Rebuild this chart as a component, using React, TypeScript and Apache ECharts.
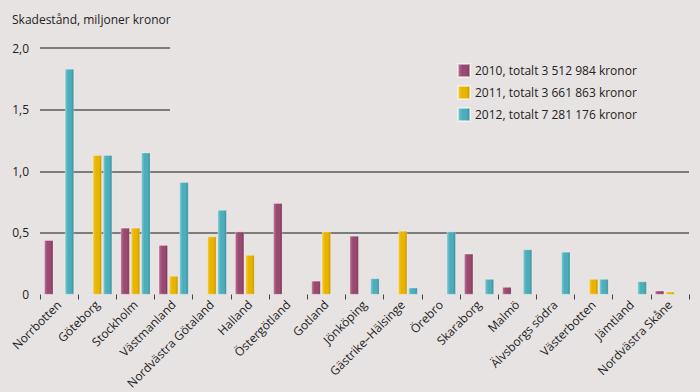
import React, { useEffect, useRef } from "react";
import * as echarts from "echarts";

const categories = [
  "Norrbotten", "Göteborg", "Stockholm", "Västmanland", "Nordvästra Götaland",
  "Halland", "Östergötland", "Gotland", "Jönköping", "Gästrike–Hälsinge",
  "Örebro", "Skaraborg", "Malmö", "Älvsborgs södra", "Västerbotten",
  "Jämtland", "Nordvästra Skåne",
];
const values2010 = [0.44, null, 0.54, 0.40, null, 0.51, 0.74, 0.11, 0.475, null, null, 0.33, 0.06, null, null, null, 0.03];
const values2011 = [null, 1.13, 0.54, 0.15, 0.47, 0.32, null, 0.51, null, 0.515, null, null, null, null, 0.125, null, 0.022];
const values2012 = [1.83, 1.13, 1.15, 0.91, 0.685, null, null, null, 0.13, 0.055, 0.51, 0.125, 0.365, 0.345, 0.125, 0.105, null];
const seriesNames = [
  "2010, totalt 3 512 984 kronor",
  "2011, totalt 3 661 863 kronor",
  "2012, totalt 7 281 176 kronor",
];
const yTicks = [0, 0.5, 1, 1.5, 2];

const BG = "#e8e3e3";
const FONT = "'Open Sans', 'Noto Sans', sans-serif";

function grad(light: string, main: string, dark: string) {
  return new echarts.graphic.LinearGradient(0, 0, 1, 0, [
    { offset: 0, color: light },
    { offset: 0.35, color: main },
    { offset: 0.7, color: main },
    { offset: 1, color: dark },
  ]);
}

const colors = [
  grad("#b7729a", "#9a4a70", "#7d3558"),
  grad("#f3cc3c", "#e8b400", "#c79600"),
  grad("#7dc7d1", "#4cadbb", "#3a8e9b"),
];

export default function App() {
  const ref = useRef<HTMLDivElement>(null);
  useEffect(() => {
    document.body.style.margin = "0";
    document.body.style.background = BG;
    const chart = echarts.init(ref.current!, null, { renderer: "svg" });
    const data = [values2010, values2011, values2012];
    chart.setOption({
      animation: false,
      backgroundColor: BG,
      textStyle: { fontFamily: FONT },
      title: {
        text: "Skadestånd, miljoner kronor",
        left: 7,
        top: 8,
        textStyle: { fontFamily: FONT, fontSize: 12, fontWeight: "normal", color: "#222" },
      },
      legend: {
        orient: "vertical",
        left: 452,
        top: 58,
        itemWidth: 12,
        itemHeight: 13,
        itemGap: 7,
        icon: "rect",
        textStyle: { fontFamily: FONT, fontSize: 12, color: "#222" },
        data: seriesNames,
      },
      graphic: [
        {
          type: "rect",
          z: 1,
          shape: { x: 170, y: 38, width: 530, height: 80 },
          style: { fill: BG },
        },
      ],
      grid: { left: 40, right: 11, top: 48, bottom: 97.5 },
      xAxis: {
        type: "category",
        data: categories,
        offset: 2,
        axisLine: { show: false },
        axisTick: { show: true, length: 5, lineStyle: { color: "#444", width: 1 } },
        axisLabel: {
          rotate: 45,
          interval: 0,
          margin: 6,
          fontFamily: FONT,
          fontSize: 12,
          color: "#222",
        },
      },
      yAxis: {
        type: "value",
        min: 0,
        max: 2,
        interval: 0.5,
        axisLine: { show: false },
        axisTick: { show: false },
        axisLabel: {
          margin: 11,
          fontFamily: FONT,
          fontSize: 12,
          color: "#222",
          formatter: (v: number) => (v === 0 ? "0" : v.toFixed(1).replace(".", ",")),
        },
        splitLine: {
          show: true,
          lineStyle: { color: "#5a5858", width: 1.5 },
          showMinLine: false,
        },
      },
      series: seriesNames.map((name, i) => ({
        name,
        type: "bar",
        z: 2,
        data: data[i],
        barWidth: 9,
        barGap: "15%",
        itemStyle: {
          color: colors[i],
          borderColor: "rgba(255,255,255,0.5)",
          borderWidth: 0.5,
        },
      })),
    });
    return () => chart.dispose();
  }, []);
  return <div ref={ref} style={{ width: 700, height: 392 }} />;
}
